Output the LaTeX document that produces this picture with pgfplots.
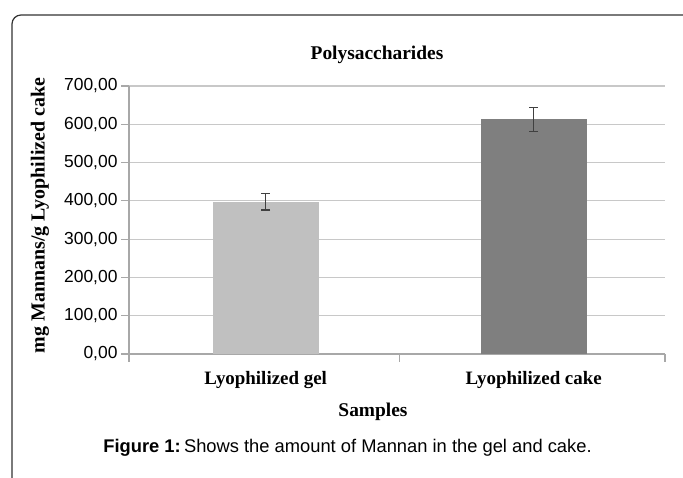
\documentclass[border=0pt]{standalone}
\usepackage{pgfplots}
\pgfplotsset{compat=1.18}
\usepackage{fontspec}
\setmainfont{Liberation Serif}
\newfontfamily\arial{Liberation Sans}
\definecolor{gelc}{HTML}{C0C0C0}
\definecolor{cakec}{HTML}{7F7F7F}
\definecolor{gridc}{HTML}{C8C8C8}
\definecolor{axc}{HTML}{A8A8A8}
\definecolor{errc}{HTML}{404040}
\definecolor{framec}{HTML}{333333}
\begin{document}
\begin{tikzpicture}[x=1bp,y=1bp]
\useasboundingbox (0,0) rectangle (683,478);
\begin{scope}
\clip (0,0) rectangle (683,478);
\draw[framec, line width=1.2bp, rounded corners=9bp] (12,-10) -- (12,463) -- (700,463);
\end{scope}
\begin{axis}[
  at={(129bp,124bp)}, anchor=south west,
  scale only axis, width=536bp, height=268bp,
  xmin=-0.51, xmax=1.49, ymin=0, ymax=700,
  axis x line*=bottom, axis y line*=left,
  axis line style={axc, line width=1.2bp},
  ytick={0,100,...,700},
  ymajorgrids, grid style={gridc, line width=1.2bp},
  tick align=outside, major tick length=8bp,
  tick style={axc, line width=1.2bp},
  xtick={-0.51,0.5,1.49}, xticklabels={},
  extra x ticks={0,1},
  extra x tick labels={Lyophilized gel, Lyophilized cake},
  extra x tick style={major tick length=0pt, grid=none,
    xticklabel style={font=\fontsize{19}{22}\selectfont\bfseries, yshift=-14bp}},
  /pgf/number format/assume math mode=true,
  yticklabel={\pgfmathprintnumber[fixed, fixed zerofill, precision=2, use comma, 1000 sep={}]{\tick}},
  yticklabel style={font=\arial\fontsize{17.5}{20}\selectfont},
  enlargelimits=false, clip=false,
]
\addplot[ybar, bar width=106bp, fill=gelc, draw=none,
  error bars/.cd, y dir=both, y explicit,
  error bar style={errc, line width=1.3bp},
  error mark options={rotate=90, mark size=4.5bp, errc, line width=1.3bp}]
  coordinates {(0,398) +- (0,22)};
\addplot[ybar, bar width=106bp, fill=cakec, draw=none,
  error bars/.cd, y dir=both, y explicit,
  error bar style={errc, line width=1.3bp},
  error mark options={rotate=90, mark size=4.5bp, errc, line width=1.3bp}]
  coordinates {(1,613) +- (0,31)};
\end{axis}
\node[anchor=base, font=\fontsize{19.5}{22}\selectfont\bfseries] at (377,418) {Polysaccharides};
\node[rotate=90, font=\fontsize{20}{24}\selectfont\bfseries] at (40,262.5) {mg Mannans/g Lyophilized cake};
\node[anchor=base, font=\fontsize{19.5}{22}\selectfont\bfseries] at (373,61) {Samples};
\node[anchor=base, font=\arial\fontsize{18.4}{22}\selectfont] at (347.5,25) {\textbf{Figure 1:}\hspace{0.18em}Shows the amount of Mannan in the gel and cake.};
\end{tikzpicture}
\end{document}
